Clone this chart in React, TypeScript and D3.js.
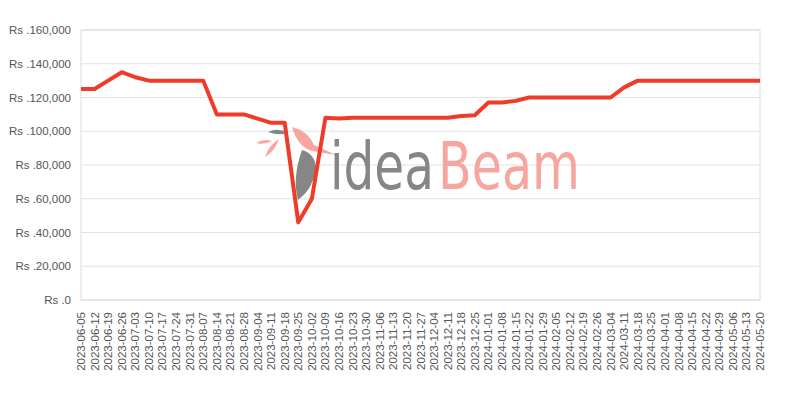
import * as React from 'react';
import * as d3 from 'd3';

const dates = [
	'2023-06-05', '2023-06-12', '2023-06-19', '2023-06-26', '2023-07-03', '2023-07-10', '2023-07-17',
	'2023-07-24', '2023-07-31', '2023-08-07', '2023-08-14', '2023-08-21', '2023-08-28', '2023-09-04',
	'2023-09-11', '2023-09-18', '2023-09-25', '2023-10-02', '2023-10-09', '2023-10-16', '2023-10-23',
	'2023-10-30', '2023-11-06', '2023-11-13', '2023-11-20', '2023-11-27', '2023-12-04', '2023-12-11',
	'2023-12-18', '2023-12-25', '2024-01-01', '2024-01-08', '2024-01-15', '2024-01-22', '2024-01-29',
	'2024-02-05', '2024-02-12', '2024-02-19', '2024-02-26', '2024-03-04', '2024-03-11', '2024-03-18',
	'2024-03-25', '2024-04-01', '2024-04-08', '2024-04-15', '2024-04-22', '2024-04-29', '2024-05-06',
	'2024-05-13', '2024-05-20',
];

const prices = [
	125000, 125000, 130000, 135000, 132000, 130000, 130000, 130000, 130000, 130000,
	110000, 110000, 110000, 107500, 105000, 105000, 46000, 60000, 108000, 107500,
	108000, 108000, 108000, 108000, 108000, 108000, 108000, 108000, 109000, 109500,
	117000, 117000, 118000, 120000, 120000, 120000, 120000, 120000, 120000, 120000,
	126000, 130000, 130000, 130000, 130000, 130000, 130000, 130000, 130000, 130000,
	130000,
];

const yTicks = [0, 20000, 40000, 60000, 80000, 100000, 120000, 140000, 160000];

const W = 800;
const H = 400;
const margin = { top: 30, right: 40, bottom: 100, left: 81 };

export default function App() {
	const x = d3
		.scalePoint<string>()
		.domain(dates)
		.range([margin.left, W - margin.right]);
	const y = d3
		.scaleLinear()
		.domain([0, 160000])
		.range([H - margin.bottom, margin.top]);

	const line = d3
		.line<number>()
		.x((_, i) => x(dates[i]) as number)
		.y(d => y(d));

	const fmt = d3.format(',');
	const textColor = '#555';
	const font = '"Liberation Sans", Arial, sans-serif';
	const markFont = '"DejaVu Sans", sans-serif';

	return (
		<div style={{ position: 'absolute', left: 0, top: 0 }}>
			<svg width={W} height={H} style={{ display: 'block' }}>
				{/* grid */}
				{yTicks.map(t => (
					<line key={t} x1={margin.left} x2={W - margin.right} y1={y(t)} y2={y(t)} stroke='#e2e2e2' strokeWidth={1} />
				))}
				<rect
					x={margin.left}
					y={margin.top}
					width={W - margin.right - margin.left}
					height={H - margin.bottom - margin.top}
					fill='none'
					stroke='#dcdcdc'
					strokeWidth={1}
				/>

				{/* watermark */}
				<g opacity={0.95}>
					<path d='M256,143 q8,-5 16,-2 q-8,4 -16,2z' fill='#f7a29a' />
					<path d='M265,157 q4,-12 14,-18 q-4,12 -14,18z' fill='#f7a29a' />
					<path d='M292,127 q16,4 22,18 l22,10 l-24,-4 q-14,-4 -20,-24z' fill='#f7a29a' />
					<path d='M268,132 q10,-5 20,1 q-9,3 -20,-1z' fill='#808080' />
					<path d='M302,150 q14,4 14,20 q-4,20 -18,30 q-6,-22 4,-50z' fill='#808080' />
					<text x={330} y={189} fontFamily={markFont} fontSize={66} textLength={104} lengthAdjust='spacingAndGlyphs' fill='#808080'>
						idea
					</text>
					<text x={438} y={189} fontFamily={markFont} fontSize={66} textLength={142} lengthAdjust='spacingAndGlyphs' fill='#f7a29a'>
						Beam
					</text>
				</g>

				{/* y axis labels */}
				{yTicks.map(t => (
					<text
						key={t}
						x={margin.left - 10}
						y={y(t)}
						dy='0.35em'
						textAnchor='end'
						fontFamily={font}
						fontSize={11.5}
						fill={textColor}
					>
						{`Rs .${fmt(t)}`}
					</text>
				))}

				{/* x axis labels */}
				{dates.map(d => (
					<text
						key={d}
						transform={`translate(${(x(d) as number) + 4},${H - margin.bottom + 12}) rotate(-90)`}
						textAnchor='end'
						fontFamily={font}
						fontSize={11.5}
						fill={textColor}
					>
						{d}
					</text>
				))}

				<path d={line(prices) ?? ''} fill='none' stroke='#ef3b2a' strokeWidth={4} strokeLinejoin='round' />
			</svg>
		</div>
	);
}
